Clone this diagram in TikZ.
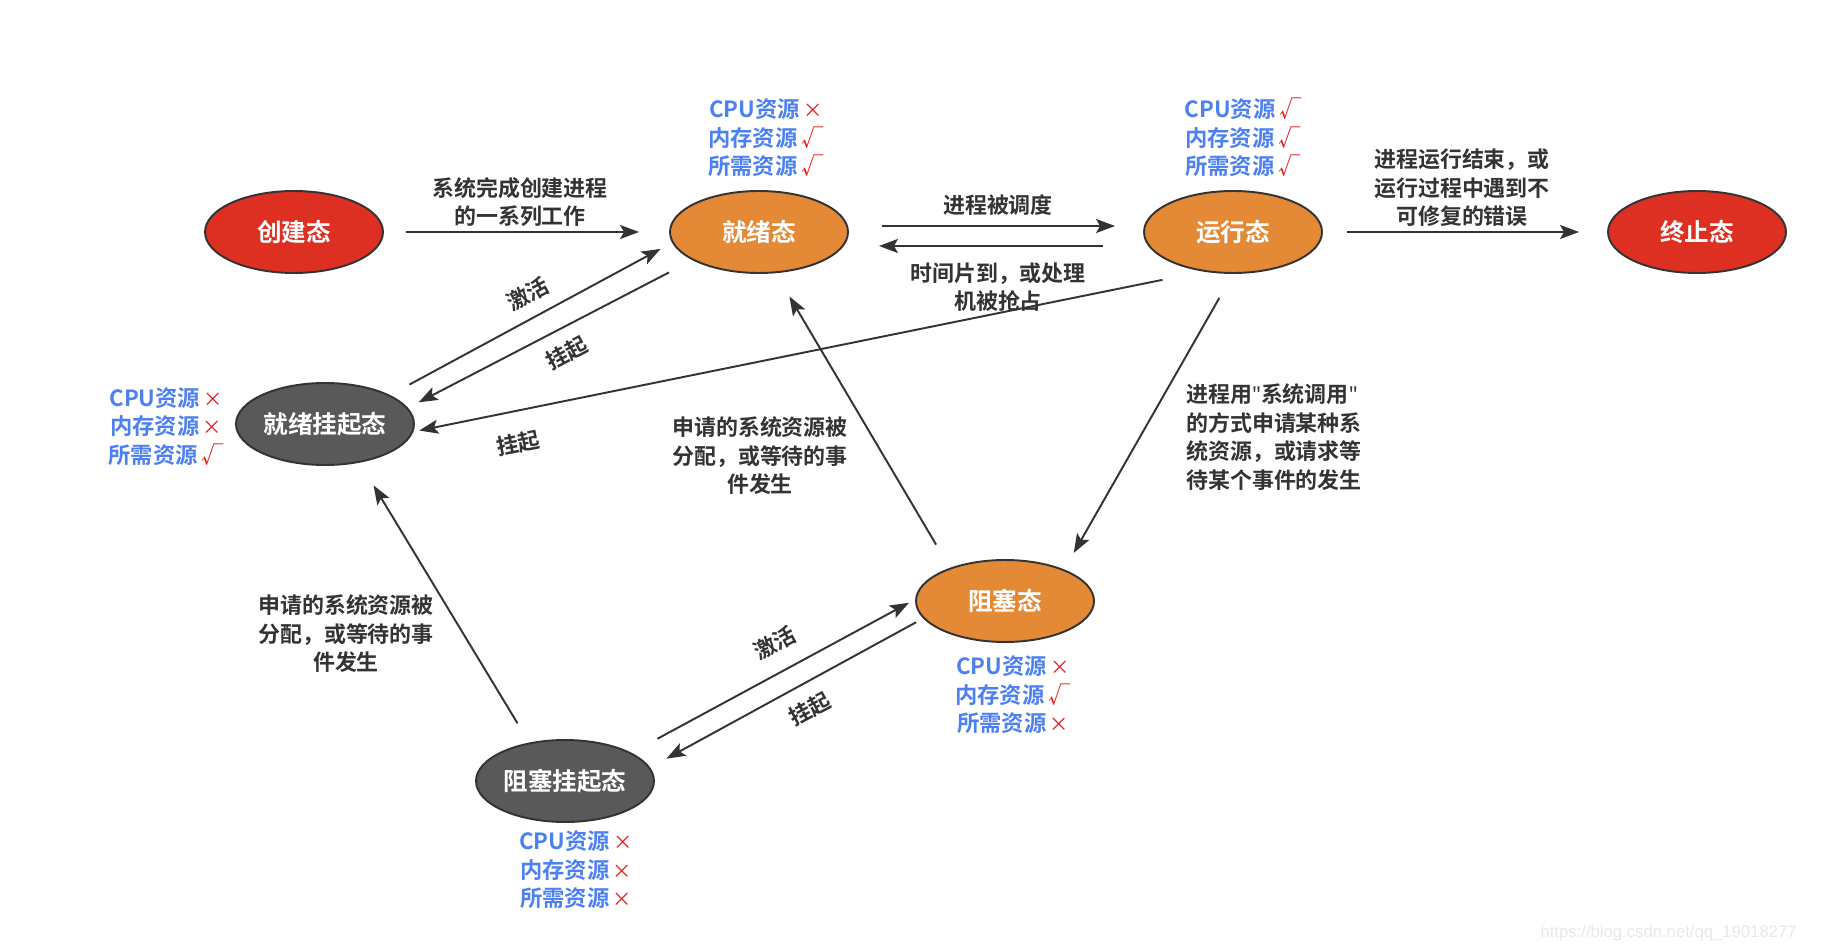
\documentclass[tikz,border=0pt]{standalone}
\usepackage{fontspec}
\setmainfont{Noto Sans CJK SC}[BoldFont={Noto Sans CJK SC Bold}]
\newfontfamily\urlfont{Liberation Sans}
\newfontfamily\latinfont{Noto Sans}
\usetikzlibrary{arrows.meta,positioning,shapes.geometric}
\definecolor{statered}{RGB}{221,48,35}
\definecolor{stateorange}{RGB}{228,137,54}
\definecolor{stategray}{RGB}{89,89,89}
\definecolor{resblue}{RGB}{77,128,240}
\definecolor{markred}{RGB}{230,30,30}
\definecolor{linegray}{RGB}{51,51,51}
\newcommand{\okmark}{{\mdseries\color{markred}\,√}}
\newcommand{\nomark}{{\mdseries\fontsize{11}{16.2}\selectfont\color{markred}\,×}}
\newcommand{\sq}{{\latinfont"}}
\tikzset{
  proc/.style={
    ellipse,
    draw=linegray,
    line width=1.1pt,
    minimum width=3.56cm,
    minimum height=1.64cm,
    inner sep=0pt,
    text=white,
    font=\fontsize{14}{16}\selectfont\bfseries
  },
  redproc/.style={proc, fill=statered},
  orgproc/.style={proc, fill=stateorange},
  grayproc/.style={proc, fill=stategray},
  res/.style={
    align=center,
    inner sep=0pt,
    text=resblue,
    font=\fontsize{12.7}{16.2}\selectfont\bfseries
  },
  lbl/.style={
    align=center,
    inner sep=0pt,
    text=linegray,
    font=\fontsize{12.5}{16.2}\selectfont\bfseries
  },
  arrow/.style={-{Stealth[length=0.38cm, width=0.28cm, inset=0.08cm]}, line width=1.1pt, draw=linegray}
}

\begin{document}
\begin{tikzpicture}[x=0.02cm, y=-0.02cm]
    \useasboundingbox (0,0) rectangle (1831,945);

    \node[redproc] (create) at (294,232) {创建态};
    \node[orgproc] (ready) at (759,232) {就绪态};
    \node[orgproc] (run) at (1233,232) {运行态};
    \node[redproc] (term) at (1697,232) {终止态};
    \node[grayproc] (readysus) at (325,424) {就绪挂起态};
    \node[orgproc] (block) at (1005,601) {阻塞态};
    \node[grayproc] (blocksus) at (565,781) {阻塞挂起态};

    \node[res, above=0.26cm of ready, xshift=0.14cm] (readyres) {CPU资源\nomark\\内存资源\okmark\\所需资源\okmark};
    \node[res, above=0.26cm of run, xshift=0.2cm] (runres) {CPU资源\okmark\\内存资源\okmark\\所需资源\okmark};
    \node[res, left=0.22cm of readysus, yshift=-0.05cm] (readysusres) {CPU资源\nomark\\内存资源\nomark\\所需资源\okmark};
    \node[res, below=0.25cm of block, xshift=0.16cm] (blockres) {CPU资源\nomark\\内存资源\okmark\\所需资源\nomark};
    \node[res, below=0.15cm of blocksus, xshift=0.22cm] (blocksusres) {CPU资源\nomark\\内存资源\nomark\\所需资源\nomark};

    \node[lbl] (admit) at (520,202) {系统完成创建进程\\的一系列工作};
    \node[lbl] (dispatch) at (998,205) {进程被调度};
    \node[lbl] (timeout) at (998,287) {时间片到，或处理\\机被抢占};
    \node[lbl] (finish) at (1462,188) {进程运行结束，或\\运行过程中遇到不\\可修复的错误};
    \node[lbl, rotate=28] (act1) at (528,294) {激活};
    \node[lbl, rotate=28] (sus1) at (567,353) {挂起};
    \node[lbl, rotate=11] (sus2) at (518,443) {挂起};
    \node[lbl, align=left] (wait) at (1274,437) {进程用\sq 系统调用\sq\\的方式申请某种系\\统资源，或请求等\\待某个事件的发生};
    \node[lbl] (wake1) at (760,456) {申请的系统资源被\\分配，或等待的事\\件发生};
    \node[lbl] (wake2) at (346,634) {申请的系统资源被\\分配，或等待的事\\件发生};
    \node[lbl, rotate=28] (act2) at (775,643) {激活};
    \node[lbl, rotate=28] (sus3) at (810,709) {挂起};

    \draw[arrow, shorten <=0.44cm, shorten >=0.6cm] (create.east) -- (ready.west);
    \draw[arrow, shorten <=0.66cm, shorten >=0.56cm] ([yshift=0.12cm]ready.east) -- ([yshift=0.12cm]run.west);
    \draw[arrow, shorten <=0.8cm, shorten >=0.6cm] ([yshift=-0.28cm]run.west) -- ([yshift=-0.28cm]ready.east);
    \draw[arrow, shorten <=0.48cm, shorten >=0.56cm] (run.east) -- (term.west);
    \draw[arrow, shorten <=0.44cm, shorten >=0.26cm] (readysus.24) -- (ready.187);
    \draw[arrow, shorten <=0.53cm, shorten >=0.24cm] (ready.203) -- (readysus.11);
    \draw[arrow, shorten <=0.83cm, shorten >=0.12cm] (run.233) -- (readysus.355);
    \draw[arrow, shorten <=0.55cm, shorten >=0.38cm] (run.270) -- (block.28);
    \draw[arrow, shorten <=0.54cm, shorten >=0.54cm] (block.149) -- (ready.292);
    \draw[arrow, shorten <=0.45cm, shorten >=0.53cm] (blocksus.133) -- (readysus.312);
    \draw[arrow, shorten <=0.59cm, shorten >=0.14cm] (blocksus.23) -- (block.179);
    \draw[arrow, shorten <=0.16cm, shorten >=0.37cm] (block.192) -- (blocksus.9);

    \node[font=\urlfont\fontsize{9.5}{11}\selectfont, text=gray!18, anchor=east, inner sep=0pt] (mark) at (1797,933) {https://blog.csdn.net/qq\_19018277};
\end{tikzpicture}
\end{document}
